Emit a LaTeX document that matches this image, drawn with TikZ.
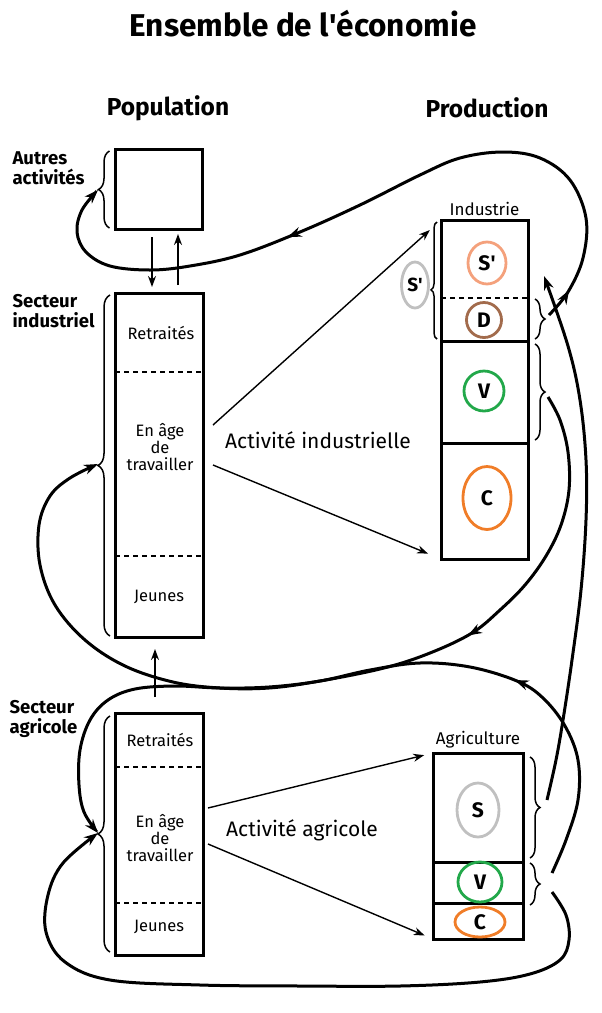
\documentclass[tikz,border=0pt]{standalone}
\usepackage{fontspec}
\setmainfont{Fira Sans}
\usetikzlibrary{arrows.meta, shapes, positioning, calc, decorations.pathreplacing, decorations.markings}

\definecolor{saumon}{HTML}{F4A17C}
\definecolor{brun}{HTML}{A26B4C}
\definecolor{vert}{HTML}{22A84A}
\definecolor{orangec}{HTML}{F07D28}
\definecolor{gris}{HTML}{C0C0C0}

\begin{document}
\begin{tikzpicture}[
        x=1pt, y=-1pt,
        boite/.style={
            rectangle,
            draw,
            line width=3pt,
            inner sep=0pt,
            outer sep=0pt
        },
        titre/.style={
            font=\fontsize{31.5}{34}\selectfont\bfseries
        },
        entete/.style={
            font=\fontsize{24.5}{27}\selectfont\bfseries
        },
        secteur/.style={
            font=\fontsize{18.5}{20}\selectfont\bfseries,
            align=left
        },
        age/.style={
            font=\fontsize{16.5}{17}\selectfont,
            align=center
        },
        activite/.style={
            font=\fontsize{21}{23}\selectfont
        },
        cercle/.style={
            ellipse,
            draw=#1,
            line width=2.8pt,
            inner sep=0pt,
            font=\fontsize{21}{22}\selectfont\bfseries
        },
        tirets/.style={
            dash pattern=on 5pt off 4pt,
            line width=2pt
        },
        accolade/.style={
            decorate,
            decoration={brace, amplitude=#1},
            line width=1.5pt
        },
        fleche/.style={
            -{Stealth[length=11pt, width=8pt]},
            line width=1.4pt
        },
        flux/.style={
            line width=3pt
        },
        pointe/.style={
            -{Stealth[length=14pt, width=10pt]}
        },
        milieu/.style={
            postaction={decorate, decoration={markings,
                mark=at position #1 with {\arrow{Stealth[length=14pt, width=10pt]}}}}
        }
    ]

    \useasboundingbox (0,0) rectangle (602,1013);

    % titres
    \node[titre] (titre) at (303,24) {Ensemble de l\textquotesingle économie};
    \node[entete] (pop) at (168,108) {Population};
    \node[entete] (prod) at (487,108) {Production};

    % population
    \node[boite, minimum width=88pt, minimum height=344pt] (indpop) at (159,465) {};
    \node[boite, minimum width=87pt, minimum height=80pt, above=64pt of indpop] (autres) {};
    \node[boite, minimum width=88pt, minimum height=242pt, below=76pt of indpop] (agrpop) {};

    \draw[tirets] ([yshift=-79pt]indpop.north west) -- ([yshift=-79pt]indpop.north east);
    \draw[tirets] ([yshift=81pt]indpop.south west) -- ([yshift=81pt]indpop.south east);
    \draw[tirets] ([yshift=-54pt]agrpop.north west) -- ([yshift=-54pt]agrpop.north east);
    \draw[tirets] ([yshift=52pt]agrpop.south west) -- ([yshift=52pt]agrpop.south east);

    \node[age] (retInd) at (161,333) {Retraités};
    \node[age] (travInd) at (160,447) {En âge\\de\\travailler};
    \node[age] (jeuInd) at (159,597) {Jeunes};
    \node[age] (retAgr) at (160,740) {Retraités};
    \node[age] (travAgr) at (160,838) {En âge\\de\\travailler};
    \node[age] (jeuAgr) at (159,927) {Jeunes};

    \node[secteur, anchor=west] (labAutres) at (9,168) {Autres\\activités};
    \node[secteur, anchor=west] (labInd) at (9,311) {Secteur\\industriel};
    \node[secteur, anchor=west] (labAgr) at (6,719) {Secteur\\agricole};

    \draw[accolade=11pt] ([shift={(-6,-1)}]autres.south west) -- ([shift={(-6,2)}]autres.north west);
    \draw[accolade=12pt] ([shift={(-5,-1)}]indpop.south west) -- ([shift={(-5,2)}]indpop.north west);
    \draw[accolade=12pt] ([shift={(-5,-3)}]agrpop.south west) -- ([shift={(-5,3)}]agrpop.north west);

    \coordinate (pointeAutres) at (98,190);
    \coordinate (pointeInd) at (98,464);
    \coordinate (pointeAgr) at (98,833);

    % production
    \node[boite, minimum width=87pt, minimum height=339pt] (indprod) at (484.5,389.5) {};
    \node[boite, minimum width=90pt, minimum height=186pt] (agrprod) at (478,846) {};
    \node[age, font=\fontsize{17}{18}\selectfont, above=1pt of indprod] (labIndustrie) {Industrie};
    \node[age, font=\fontsize{17}{18}\selectfont, above=1pt of agrprod] (labAgriculture) {Agriculture};

    \draw[tirets] ([yshift=-78pt]indprod.north west) -- ([yshift=-78pt]indprod.north east);
    \draw[line width=3pt] ([yshift=-121pt]indprod.north west) -- ([yshift=-121pt]indprod.north east);
    \draw[line width=3pt] ([yshift=116pt]indprod.south west) -- ([yshift=116pt]indprod.south east);
    \draw[line width=3pt] ([yshift=77pt]agrprod.south west) -- ([yshift=77pt]agrprod.south east);
    \draw[line width=3pt] ([yshift=36pt]agrprod.south west) -- ([yshift=36pt]agrprod.south east);

    \node[cercle=saumon, minimum width=38pt, minimum height=42pt] (sPrime) at (487,263) {S\textquotesingle};
    \node[cercle=brun, minimum width=35pt, minimum height=35pt] (dInd) at (484,320) {D};
    \node[cercle=vert, minimum width=40pt, minimum height=40pt] (vInd) at (484,391) {V};
    \node[cercle=orangec, minimum width=48pt, minimum height=63pt] (cInd) at (487,498) {C};
    \node[cercle=gris, minimum width=42pt, minimum height=54pt] (sAgr) at (478,810) {S};
    \node[cercle=vert, minimum width=44pt, minimum height=40pt] (vAgr) at (480,882) {V};
    \node[cercle=orangec, minimum width=50pt, minimum height=30pt] (cAgr) at (480,922) {C};

    \draw[accolade=6pt, decoration={aspect=0.42}] ([shift={(-4,119)}]indprod.north west) -- ([shift={(-4,2)}]indprod.north west);
    \node[cercle=gris, minimum width=27pt, minimum height=46pt, font=\fontsize{19}{20}\selectfont\bfseries, fill=white] (sGauche) at (415,285) {S\textquotesingle};
    \draw[accolade=10pt] ([shift={(7,79)}]indprod.north east) -- ([shift={(7,119)}]indprod.north east);
    \draw[accolade=10pt] ([shift={(7,124)}]indprod.north east) -- ([shift={(7,220)}]indprod.north east);
    \draw[accolade=10pt] ([shift={(7,4)}]agrprod.north east) -- ([shift={(7,105)}]agrprod.north east);
    \draw[accolade=10pt] ([shift={(7,110)}]agrprod.north east) -- ([shift={(7,152)}]agrprod.north east);

    \coordinate (pointeD) at (549,315);
    \coordinate (pointeV) at (548,397);
    \coordinate (pointeSA) at (547,800);
    \coordinate (pointeVA) at (552,873);
    \coordinate (pointeVB) at (552,892);
    \coordinate (arriveeInd) at (544,276);

    % activites
    \node[activite] (actInd) at (318,440) {Activité industrielle};
    \node[activite] (actAgr) at (302,830) {Activité agricole};

    \draw[fleche, shorten >=15pt] ([shift={(10,-40)}]indpop.east) -- (indprod.north west);
    \draw[fleche, shorten >=14pt] ([shift={(10,0)}]indpop.east) -- (indprod.south west);
    \draw[fleche, shorten >=9pt] ([shift={(5,-26)}]agrpop.east) -- (agrprod.north west);
    \draw[fleche, shorten >=9pt] ([shift={(5,10)}]agrpop.east) -- (agrprod.south west);

    \draw[fleche, shorten <=8pt, shorten >=6pt] ([xshift=-7pt]autres.south) -- ([xshift=-7pt]indpop.north);
    \draw[fleche, shorten <=8pt, shorten >=5pt] ([xshift=19pt]indpop.north) -- ([xshift=19pt]autres.south);
    \draw[fleche, shorten <=16pt, shorten >=12pt] ([xshift=-4pt]agrpop.north) -- ([xshift=-4pt]indpop.south);

    % flux
    \draw[flux, pointe, milieu=32pt, milieu=458pt] plot[smooth, tension=0.6] coordinates {
        (pointeD) (568,292) (583,258) (586,218) (570,180) (540,158) (503,152) (460,158)
        (420,175) (360,205) (300,232) (240,255) (190,266) (150,270) (110,266) (86,252)
        (77,232) (82,210) (pointeAutres)};

    \draw[flux, pointe] plot[smooth, tension=0.6] coordinates {
        (pointeSA) (556,760) (563,720) (572,660) (581,590) (586,520) (586,460) (580,400)
        (568,346) (arriveeInd)};

    \draw[flux, pointe, milieu=280pt] plot[smooth, tension=0.6] coordinates {
        (pointeV) (560,420) (568,452) (569,490) (561,525) (546,556) (525,585) (500,610)
        (472,633) (430,653) (384,668) (320,681) (269,688) (220,688) (173,682) (125,666)
        (85,640) (55,605) (40,565) (39,525) (50,496) (70,478) (pointeInd)};

    \draw[flux, pointe, milieu=224pt] plot[smooth, tension=0.6] coordinates {
        (pointeVA) (566,840) (578,800) (578,760) (565,726) (543,698) (517,681) (470,667)
        (420,663) (370,670) (320,681) (269,687) (220,688) (175,686) (135,689) (108,700)
        (90,720) (80,750) (79,785) (84,812) (pointeAgr)};

    \draw[flux, pointe] plot[smooth, tension=0.6] coordinates {
        (pointeVB) (566,915) (569,940) (560,960) (530,974) (480,982) (400,986) (300,986)
        (200,985) (110,980) (65,962) (46,932) (48,895) (63,863) (pointeAgr)};

\end{tikzpicture}
\end{document}
